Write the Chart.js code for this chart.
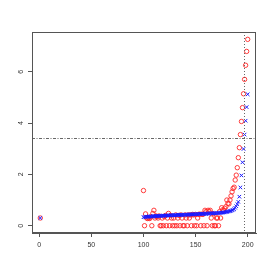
<!DOCTYPE html>
<html>
<head>
<meta charset="utf-8">
<script src="https://cdn.jsdelivr.net/npm/chart.js@4.4.1/dist/chart.umd.min.js"></script>
<style>
html,body{margin:0;padding:0;background:#fff;}
canvas{display:block;}
</style>
</head>
<body>
<canvas id="c" width="273" height="273"></canvas>
<script>
// ---- data ----
const xValues = [100,101,102,103,104,105,106,107,108,109,
  110,111,112,113,114,115,116,117,118,119,
  120,121,122,123,124,125,126,127,128,129,
  130,131,132,133,134,135,136,137,138,139,
  140,141,142,143,144,145,146,147,148,149,
  150,151,152,153,154,155,156,157,158,159,
  160,161,162,163,164,165,166,167,168,169,
  170,171,172,173,174,175,176,177,178,179,
  180,181,182,183,184,185,186,187,188,189,
  190,191,192,193,194,195,196,197,198,199,200];

const redValues = [1.37,0.00,0.46,0.30,0.28,0.30,0.28,0.35,0.00,0.48,
  0.60,0.30,0.38,0.35,0.30,0.38,0.00,0.00,0.30,0.00,
  0.35,0.40,0.00,0.30,0.48,0.00,0.40,0.30,0.00,0.30,
  0.00,0.42,0.00,0.30,0.40,0.00,0.42,0.30,0.00,0.00,
  0.42,0.30,0.00,0.42,0.30,0.42,0.00,0.44,0.42,0.00,
  0.44,0.00,0.30,0.44,0.45,0.00,0.45,0.44,0.00,0.60,
  0.55,0.00,0.60,0.55,0.60,0.30,0.00,0.47,0.00,0.00,
  0.30,0.30,0.00,0.55,0.30,0.70,0.62,0.60,0.68,0.74,
  1.00,0.87,0.85,1.00,1.16,1.32,1.45,1.50,1.78,1.97,
  2.26,2.65,3.04,3.55,4.06,4.60,5.14,5.70,6.25,6.79,7.26];

const blueValues = [0.33,0.34,0.34,0.35,0.35,0.35,0.36,0.36,0.36,0.37,
  0.37,0.37,0.37,0.38,0.38,0.38,0.38,0.39,0.39,0.39,
  0.39,0.39,0.40,0.40,0.40,0.40,0.40,0.41,0.41,0.41,
  0.41,0.41,0.41,0.42,0.42,0.42,0.42,0.42,0.43,0.43,
  0.43,0.43,0.43,0.43,0.44,0.44,0.44,0.44,0.44,0.45,
  0.45,0.45,0.45,0.45,0.46,0.46,0.46,0.46,0.46,0.47,
  0.47,0.47,0.47,0.47,0.48,0.48,0.48,0.48,0.49,0.49,
  0.49,0.49,0.50,0.50,0.50,0.51,0.51,0.52,0.52,0.53,
  0.54,0.55,0.56,0.57,0.58,0.60,0.62,0.65,0.70,0.76,
  0.84,0.93,1.13,1.49,1.96,2.47,2.99,3.55,4.09,4.62,5.12];

const firstPointX = [1];
const firstPointY = [0.30];

const hLineY = [3.43];
const vLineX = [196.2];

const xTicks = [0, 50, 100, 150, 200];
const yTicks = [0, 2, 4, 6];

// ---- build chart ----
function pts(xs, ys){ return xs.map((x,i)=>({x:x, y:ys[i]})); }

const refLines = {
  id: 'refLines',
  afterDatasetsDraw(chart){
    const {ctx, chartArea:a, scales:{x, y}} = chart;
    ctx.save();
    ctx.strokeStyle = '#666';
    ctx.lineWidth = 1;
    ctx.setLineDash([3,1.5,1,1.5]);
    hLineY.forEach(v=>{
      const py = Math.round(y.getPixelForValue(v)) + 0.5;
      ctx.beginPath(); ctx.moveTo(a.left, py); ctx.lineTo(a.right, py); ctx.stroke();
    });
    ctx.setLineDash([1,2]);
    vLineX.forEach(v=>{
      const px = Math.round(x.getPixelForValue(v)) + 0.5;
      ctx.beginPath(); ctx.moveTo(px, a.top); ctx.lineTo(px, a.bottom); ctx.stroke();
    });
    ctx.setLineDash([]);
    ctx.strokeStyle = '#555';
    ctx.strokeRect(a.left + 0.5, a.top + 0.5, a.right - a.left - 1, a.bottom - a.top - 1);
    ctx.restore();
  }
};

const tickFont = {family: '"Liberation Sans", Arial, sans-serif', size: 7};

new Chart(document.getElementById('c'), {
  type: 'scatter',
  data: {
    datasets: [
      {
        label: 'blue',
        data: pts(firstPointX, firstPointY).concat(pts(xValues, blueValues)),
        pointStyle: 'crossRot',
        radius: 2.5,
        borderColor: '#1a1aff',
        backgroundColor: '#1a1aff',
        borderWidth: 1,
        order: 0
      },
      {
        label: 'red',
        data: pts(firstPointX, firstPointY).concat(pts(xValues, redValues)),
        pointStyle: 'circle',
        radius: 2.2,
        borderColor: 'rgba(255,40,40,0.9)',
        backgroundColor: 'rgba(0,0,0,0)',
        borderWidth: 1,
        order: 1
      }
    ]
  },
  options: {
    responsive: false,
    animation: false,
    devicePixelRatio: 1,
    layout: {padding: {left: 0, top: 32, right: 17, bottom: 0}},
    plugins: {legend: {display: false}, tooltip: {enabled: false}},
    scales: {
      x: {
        type: 'linear',
        min: -6.96, max: 207.96,
        afterBuildTicks(s){ s.ticks = xTicks.map(v=>({value:v})); },
        afterFit(s){ s.height = 40; },
        grid: {display: true, drawOnChartArea: false, drawTicks: true, tickLength: 4, color: '#555'},
        border: {display: true, color: '#555'},
        ticks: {font: tickFont, color: '#333', padding: 4, maxRotation: 0, minRotation: 0}
      },
      y: {
        type: 'linear',
        min: -0.284, max: 7.546,
        afterBuildTicks(s){ s.ticks = yTicks.map(v=>({value:v})); },
        afterFit(s){ s.width = 32; },
        grid: {display: true, drawOnChartArea: false, drawTicks: true, tickLength: 4, color: '#555'},
        border: {display: true, color: '#555'},
        ticks: {font: tickFont, color: '#333', padding: 5, minRotation: 90, maxRotation: 90, crossAlign: 'center'}
      }
    }
  },
  plugins: [refLines]
});
</script>
</body>
</html>
